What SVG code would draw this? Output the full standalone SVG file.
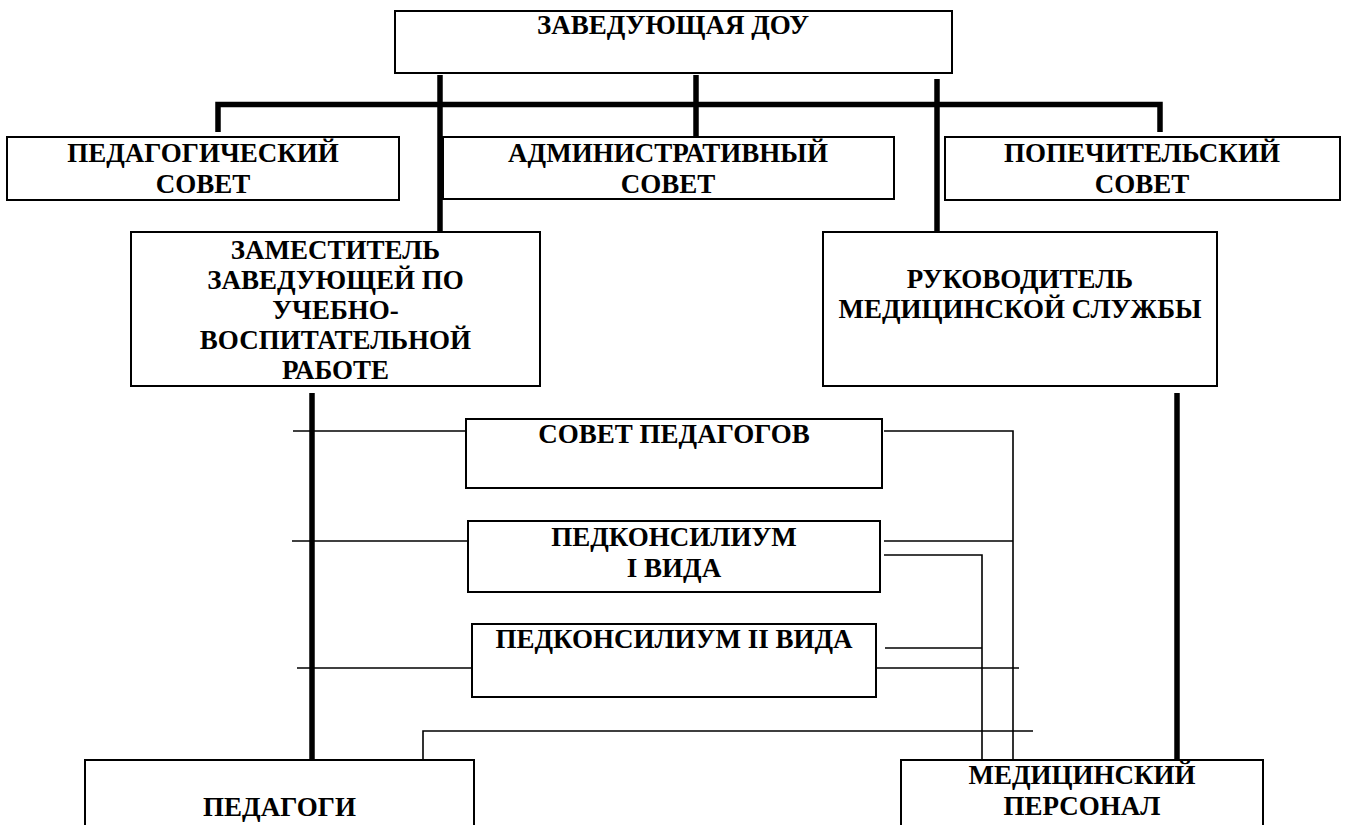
<svg xmlns="http://www.w3.org/2000/svg" width="1347" height="825" viewBox="0 0 1347 825">
<style>
  .box { fill: #ffffff; stroke: #000000; stroke-width: 2; }
  .t { font-family: "Liberation Serif", "DejaVu Serif", serif; font-weight: 700; font-size: 27px; fill: #000000; text-anchor: middle; }
  .thick { stroke: #000000; stroke-width: 5.5; fill: none; stroke-linecap: butt; }
  .thin { stroke: #000000; stroke-width: 1.6; fill: none; }
</style>
<rect x="0" y="0" width="1347" height="825" fill="#ffffff"/>

<g id="connectors">
  <line class="thick" x1="440" y1="75" x2="440" y2="232"/>
  <polyline class="thick" points="218,132 218,104.5 1160,104.5 1160,132"/>
  <line class="thick" x1="696" y1="75" x2="696" y2="137"/>
  <line class="thick" x1="937" y1="79" x2="937" y2="232"/>
  <line class="thick" x1="312" y1="393" x2="312" y2="760"/>
  <line class="thick" x1="1177" y1="393" x2="1177" y2="760"/>

  <line class="thin" x1="293" y1="431" x2="470" y2="431"/>
  <polyline class="thin" points="884,431 1013,431 1013,763"/>
  <line class="thin" x1="292" y1="541" x2="469" y2="541"/>
  <line class="thin" x1="884" y1="541" x2="1013" y2="541"/>
  <polyline class="thin" points="884,555 982,555 982,760"/>
  <line class="thin" x1="297" y1="668" x2="473" y2="668"/>
  <line class="thin" x1="873" y1="668" x2="1019" y2="668"/>
  <line class="thin" x1="885" y1="648" x2="982" y2="648"/>
  <polyline class="thin" points="423,763 423,731 1033,731"/>
</g>

<g id="zaveduyushchaya">
  <rect class="box" x="395" y="11" width="557" height="62"/>
  <text class="t" x="673" y="34">ЗАВЕДУЮЩАЯ ДОУ</text>
</g>

<g id="ped-sovet">
  <rect class="box" x="7" y="137" width="392" height="63"/>
  <text class="t" x="203" y="162">ПЕДАГОГИЧЕСКИЙ</text>
  <text class="t" x="203" y="193">СОВЕТ</text>
</g>

<g id="adm-sovet">
  <rect class="box" x="443" y="137" width="451" height="62"/>
  <text class="t" x="668" y="162">АДМИНИСТРАТИВНЫЙ</text>
  <text class="t" x="668" y="193">СОВЕТ</text>
</g>

<g id="pop-sovet">
  <rect class="box" x="945" y="137" width="395" height="63"/>
  <text class="t" x="1142" y="162">ПОПЕЧИТЕЛЬСКИЙ</text>
  <text class="t" x="1142" y="193">СОВЕТ</text>
</g>

<g id="zamestitel">
  <rect class="box" x="131" y="232" width="409" height="154"/>
  <text class="t" x="335.5" y="259">ЗАМЕСТИТЕЛЬ</text>
  <text class="t" x="335.5" y="289">ЗАВЕДУЮЩЕЙ ПО</text>
  <text class="t" x="335.5" y="319">УЧЕБНО-</text>
  <text class="t" x="335.5" y="349">ВОСПИТАТЕЛЬНОЙ</text>
  <text class="t" x="335.5" y="379">РАБОТЕ</text>
</g>

<g id="med-head">
  <rect class="box" x="823" y="232" width="394" height="154"/>
  <text class="t" x="1020" y="288">РУКОВОДИТЕЛЬ</text>
  <text class="t" x="1020" y="318">МЕДИЦИНСКОЙ СЛУЖБЫ</text>
</g>

<g id="sovet-pedagogov">
  <rect class="box" x="466" y="419" width="416" height="69"/>
  <text class="t" x="674" y="443">СОВЕТ ПЕДАГОГОВ</text>
</g>

<g id="pedkonsilium-1">
  <rect class="box" x="468" y="521" width="412" height="71"/>
  <text class="t" x="674" y="546">ПЕДКОНСИЛИУМ</text>
  <text class="t" x="674" y="577">I ВИДА</text>
</g>

<g id="pedkonsilium-2">
  <rect class="box" x="472" y="624" width="404" height="73"/>
  <text class="t" x="674" y="648">ПЕДКОНСИЛИУМ II ВИДА</text>
</g>

<g id="pedagogi">
  <rect class="box" x="85" y="760" width="389" height="90"/>
  <text class="t" x="279.5" y="816">ПЕДАГОГИ</text>
</g>

<g id="med-personal">
  <rect class="box" x="901" y="760" width="362" height="90"/>
  <text class="t" x="1082" y="784">МЕДИЦИНСКИЙ</text>
  <text class="t" x="1082" y="815">ПЕРСОНАЛ</text>
</g>
</svg>
